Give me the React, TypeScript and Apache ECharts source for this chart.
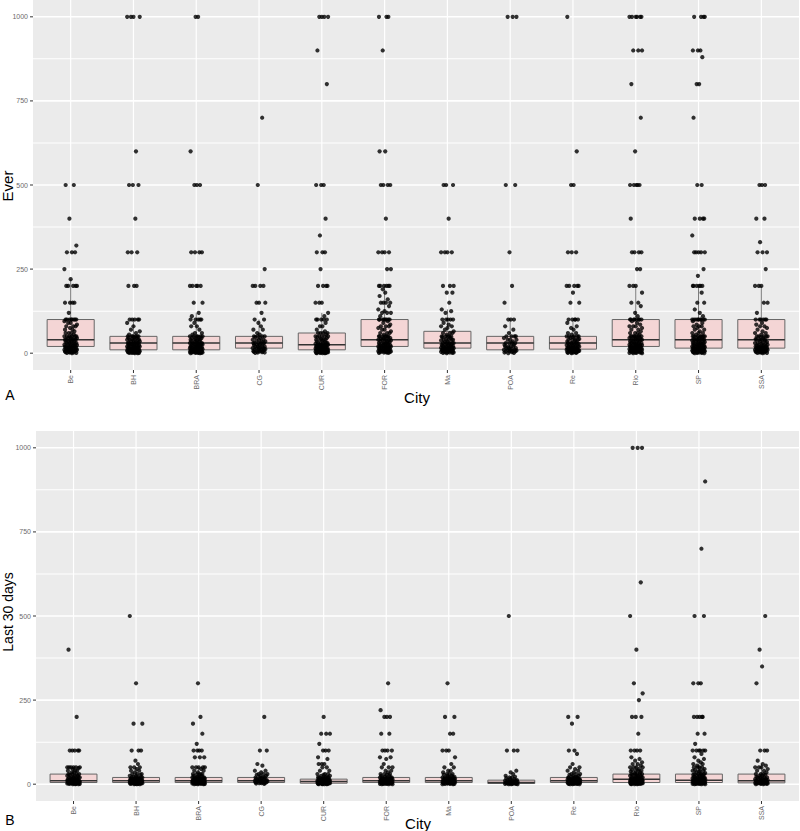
import React, { useEffect, useRef } from "react";
import * as echarts from "echarts";

const CITIES = ["Be", "BH", "BRA", "CG", "CUR", "FOR", "Ma", "POA", "Re", "Rio", "SP", "SSA"];
const Y_TICKS = [0, 250, 500, 750, 1000];
const Y_MINOR = [125, 375, 625, 875];

// [lower whisker, Q1, median, Q3, upper whisker]
const EVER_STATS = [
  [0, 20, 40, 100, 220],
  [0, 10, 30, 50, 100],
  [0, 10, 30, 50, 120],
  [1, 15, 30, 50, 100],
  [0, 10, 25, 60, 120],
  [1, 20, 40, 100, 200],
  [0, 15, 30, 65, 130],
  [0, 10, 30, 50, 100],
  [0, 12, 30, 50, 100],
  [0, 20, 40, 100, 200],
  [0, 15, 40, 100, 200],
  [0, 15, 40, 100, 200],
];

const LAST30_STATS = [
  [0, 5, 10, 30, 50],
  [0, 5, 10, 20, 50],
  [0, 5, 10, 20, 50],
  [1, 5, 10, 20, 40],
  [0, 3, 8, 15, 30],
  [0, 5, 10, 20, 40],
  [0, 5, 10, 20, 40],
  [0, 2, 5, 12, 25],
  [0, 5, 10, 20, 40],
  [0, 5, 15, 30, 65],
  [0, 5, 12, 30, 65],
  [0, 4, 10, 30, 60],
];

const EVER_POINTS = [
  // Be
  [500, 500, 400, 320, 300, 300, 300, 250, 220, 200, 200, 200, 200, 200, 150, 150, 150, 150, 120,
    100, 100, 100, 100, 100, 100, 100, 100, 95, 90, 90, 85, 80, 80, 80, 75, 70, 70, 65, 60, 60, 60, 55, 50, 50, 50, 50, 50, 50,
    48, 45, 45, 42, 40, 40, 40, 40, 40, 38, 35, 35, 33, 30, 30, 30, 30, 30, 28, 25, 25, 25, 24, 22, 20, 20, 20, 20, 20, 20,
    18, 16, 15, 15, 15, 14, 12, 12, 10, 10, 10, 10, 10, 8, 8, 7, 6, 5, 5, 5, 4, 3, 3, 2, 2, 1, 1, 0],
  // BH
  [1000, 1000, 1000, 1000, 600, 500, 500, 500, 400, 300, 300, 300, 200, 200, 200,
    100, 100, 100, 100, 100, 90, 80, 70, 65, 60, 55, 50, 50, 50, 50, 50, 50, 48, 45, 45, 42, 40, 40, 40, 40, 40, 38, 35, 35, 33,
    30, 30, 30, 30, 30, 30, 28, 27, 25, 25, 25, 24, 22, 20, 20, 20, 20, 20, 20, 18, 16, 15, 15, 15, 15, 14, 12, 12,
    10, 10, 10, 10, 10, 10, 9, 8, 8, 7, 6, 5, 5, 5, 5, 4, 4, 3, 3, 2, 2, 2, 1, 1, 1, 0, 0],
  // BRA
  [1000, 1000, 600, 500, 500, 500, 300, 300, 300, 300, 200, 200, 200, 200, 200, 150, 150, 120,
    110, 100, 100, 100, 100, 100, 90, 80, 80, 70, 60, 60, 55, 50, 50, 50, 50, 50, 50, 48, 45, 44, 42, 40, 40, 40, 40, 38, 36, 35, 33,
    30, 30, 30, 30, 30, 30, 28, 26, 25, 25, 25, 24, 22, 20, 20, 20, 20, 20, 20, 18, 17, 15, 15, 15, 15, 14, 12, 12,
    10, 10, 10, 10, 10, 10, 9, 8, 8, 7, 6, 5, 5, 5, 5, 4, 4, 3, 3, 2, 2, 2, 1, 1, 1, 0, 0],
  // CG
  [700, 500, 250, 200, 200, 200, 200, 150, 150, 150, 120,
    100, 100, 90, 80, 70, 70, 60, 55, 50, 50, 50, 50, 48, 45, 40, 40, 40, 38, 35, 35, 30, 30, 30, 30, 30, 28, 25, 25, 24,
    20, 20, 20, 20, 18, 15, 15, 15, 14, 12, 10, 10, 10, 10, 8, 6, 5, 5, 5, 4, 3, 2, 2, 1],
  // CUR
  [1000, 1000, 1000, 1000, 900, 800, 500, 500, 500, 400, 350, 300, 300, 300, 250, 200, 200, 200, 200, 150, 150, 150,
    120, 110, 100, 100, 100, 100, 100, 90, 80, 80, 70, 65, 60, 60, 60, 60, 55, 50, 50, 50, 50, 50, 48, 45, 42, 40, 40, 40, 40, 38,
    35, 33, 30, 30, 30, 30, 30, 28, 26, 25, 25, 25, 25, 24, 22, 20, 20, 20, 20, 20, 20, 18, 16, 15, 15, 15, 15, 14, 12, 12,
    10, 10, 10, 10, 10, 10, 10, 9, 8, 8, 7, 6, 6, 5, 5, 5, 5, 5, 4, 4, 3, 3, 3, 2, 2, 2, 1, 1, 1, 0, 0, 0],
  // FOR
  [1000, 1000, 1000, 900, 600, 600, 500, 500, 500, 500, 400, 300, 300, 300, 300, 250, 250,
    200, 200, 200, 200, 200, 200, 190, 180, 170, 160, 150, 150, 150, 150, 140, 130, 125, 120, 120, 120, 110,
    100, 100, 100, 100, 100, 100, 100, 100, 95, 90, 85, 80, 80, 80, 75, 70, 70, 65, 60, 60, 60, 55, 50, 50, 50, 50, 50, 50,
    48, 45, 45, 42, 40, 40, 40, 40, 40, 38, 35, 35, 33, 30, 30, 30, 30, 30, 28, 25, 25, 25, 24, 22, 20, 20, 20, 20, 20, 20,
    18, 16, 15, 15, 15, 14, 12, 12, 10, 10, 10, 10, 10, 8, 8, 7, 6, 5, 5, 5, 4, 3, 3, 2, 2, 1, 1],
  // Ma
  [500, 500, 500, 400, 300, 300, 300, 300, 200, 200, 200, 180, 180, 150,
    130, 125, 120, 100, 100, 100, 100, 100, 90, 85, 80, 80, 75, 70, 65, 60, 60, 60, 55, 50, 50, 50, 50, 50, 48, 45, 42,
    40, 40, 40, 40, 38, 35, 33, 30, 30, 30, 30, 30, 28, 25, 25, 25, 24, 22, 20, 20, 20, 20, 20, 18, 16, 15, 15, 15, 15, 14,
    12, 12, 10, 10, 10, 10, 10, 8, 8, 7, 6, 5, 5, 5, 4, 3, 3, 2, 2, 1, 1, 0],
  // POA
  [1000, 1000, 1000, 500, 500, 300, 200, 150,
    100, 100, 100, 80, 70, 60, 50, 50, 50, 50, 45, 40, 40, 40, 35, 30, 30, 30, 30, 25, 25, 20, 20, 20, 20, 15, 15, 15, 12,
    10, 10, 10, 10, 8, 6, 5, 5, 5, 3, 2, 1, 0],
  // Re
  [1000, 600, 500, 500, 300, 300, 300, 200, 200, 200, 200, 200, 180, 150, 150,
    100, 100, 100, 100, 100, 90, 80, 75, 70, 60, 60, 55, 50, 50, 50, 50, 50, 48, 45, 42, 40, 40, 40, 40, 38, 35, 33,
    30, 30, 30, 30, 30, 28, 25, 25, 25, 24, 22, 20, 20, 20, 20, 20, 18, 16, 15, 15, 15, 15, 14, 12, 12,
    10, 10, 10, 10, 10, 8, 8, 7, 6, 5, 5, 5, 4, 3, 3, 2, 2, 1, 1, 0],
  // Rio
  [1000, 1000, 1000, 1000, 1000, 1000, 900, 900, 900, 800, 700, 600, 500, 500, 500, 500, 500, 400, 300, 300, 300, 300, 250, 250,
    200, 200, 200, 180, 150, 150, 140, 120, 110, 100, 100, 100, 100, 100, 100, 100, 100, 95, 90, 85, 80, 80, 80, 75, 70, 70, 65,
    60, 60, 60, 55, 50, 50, 50, 50, 50, 50, 50, 48, 45, 45, 42, 40, 40, 40, 40, 40, 40, 38, 35, 35, 33, 30, 30, 30, 30, 30, 30,
    28, 25, 25, 25, 25, 24, 22, 20, 20, 20, 20, 20, 20, 20, 18, 16, 15, 15, 15, 15, 14, 12, 12,
    10, 10, 10, 10, 10, 10, 8, 8, 7, 6, 5, 5, 5, 5, 4, 3, 3, 2, 2, 1, 1, 0, 0],
  // SP
  [1000, 1000, 1000, 1000, 900, 900, 900, 880, 800, 800, 700, 500, 500, 400, 400, 400, 400, 350, 300, 300, 300, 300, 300, 250, 230,
    200, 200, 200, 200, 200, 200, 180, 150, 150, 130, 120, 110, 100, 100, 100, 100, 100, 100, 100, 100, 100, 95, 90, 85,
    80, 80, 80, 75, 70, 70, 65, 60, 60, 60, 55, 50, 50, 50, 50, 50, 50, 50, 48, 45, 45, 42, 40, 40, 40, 40, 40, 40, 38, 35, 35, 33,
    30, 30, 30, 30, 30, 30, 28, 25, 25, 25, 25, 24, 22, 20, 20, 20, 20, 20, 20, 18, 16, 15, 15, 15, 15, 15, 14, 12, 12,
    10, 10, 10, 10, 10, 10, 10, 8, 8, 7, 6, 5, 5, 5, 5, 5, 4, 3, 3, 2, 2, 1, 1, 0, 0],
  // SSA
  [500, 500, 500, 400, 400, 330, 300, 300, 300, 250,
    200, 200, 200, 150, 150, 120, 100, 100, 100, 100, 100, 100, 90, 85, 80, 80, 75, 70, 65, 60, 60, 55, 50, 50, 50, 50, 50,
    48, 45, 42, 40, 40, 40, 40, 38, 35, 33, 30, 30, 30, 30, 28, 25, 25, 24, 22, 20, 20, 20, 20, 20, 18, 16, 15, 15, 15, 15, 14,
    12, 12, 10, 10, 10, 10, 8, 8, 7, 6, 5, 5, 5, 4, 3, 3, 2, 2, 1, 1, 0],
];

const LAST30_POINTS = [
  // Be
  [400, 200, 100, 100, 100, 100, 100,
    50, 50, 50, 50, 50, 50, 48, 45, 40, 40, 40, 35, 35, 30, 30, 30, 30, 28, 25, 25, 25, 22, 20, 20, 20, 20, 20, 18,
    15, 15, 15, 15, 14, 12, 12, 10, 10, 10, 10, 10, 10, 10, 9, 8, 8, 7, 7, 6, 6, 5, 5, 5, 5, 5, 5, 4, 4, 3, 3, 3, 2, 2, 2, 1, 1, 1, 0, 0, 0],
  // BH
  [500, 300, 180, 180, 100, 100, 100, 70, 60,
    50, 50, 50, 45, 40, 40, 35, 30, 30, 30, 28, 25, 25, 22, 20, 20, 20, 20, 20, 18, 16, 15, 15, 15, 15, 14, 12, 12, 12,
    10, 10, 10, 10, 10, 10, 10, 9, 8, 8, 8, 7, 7, 6, 6, 5, 5, 5, 5, 5, 5, 4, 4, 3, 3, 3, 2, 2, 2, 1, 1, 1, 0, 0, 0],
  // BRA
  [300, 200, 180, 150, 120, 100, 100, 100, 100, 80, 80, 80,
    50, 50, 50, 50, 50, 45, 40, 40, 35, 30, 30, 30, 30, 28, 25, 25, 22, 20, 20, 20, 20, 20, 20, 18, 16, 15, 15, 15, 15, 14, 12, 12, 12,
    10, 10, 10, 10, 10, 10, 10, 10, 9, 8, 8, 8, 7, 7, 6, 6, 5, 5, 5, 5, 5, 5, 4, 4, 3, 3, 3, 2, 2, 2, 1, 1, 1, 0, 0, 0],
  // CG
  [200, 100, 100, 60, 55,
    40, 40, 35, 30, 30, 30, 28, 25, 25, 20, 20, 20, 20, 18, 15, 15, 15, 12, 12, 10, 10, 10, 10, 9, 8, 7, 6, 5, 5, 5, 5, 4, 3, 3, 2, 1],
  // CUR
  [200, 150, 150, 150, 120, 100, 100, 100, 80, 75, 60, 60, 60, 50, 50, 40, 40,
    30, 30, 30, 28, 25, 25, 22, 20, 20, 20, 20, 20, 18, 16, 15, 15, 15, 15, 14, 12, 12, 12,
    10, 10, 10, 10, 10, 10, 9, 8, 8, 8, 7, 7, 6, 6, 5, 5, 5, 5, 5, 5, 4, 4, 3, 3, 3, 3, 2, 2, 2, 1, 1, 1, 0, 0, 0, 0],
  // FOR
  [300, 220, 200, 200, 200, 150, 150, 100, 100, 100, 100, 80, 80, 75, 60, 50, 50, 50,
    40, 40, 35, 30, 30, 30, 28, 25, 25, 22, 20, 20, 20, 20, 20, 18, 16, 15, 15, 15, 15, 14, 12, 12, 12,
    10, 10, 10, 10, 10, 10, 10, 9, 8, 8, 8, 7, 7, 6, 6, 5, 5, 5, 5, 5, 5, 4, 4, 3, 3, 3, 2, 2, 2, 1, 1, 1, 0, 0, 0],
  // Ma
  [300, 200, 200, 150, 150, 100, 100, 100, 80, 60, 50, 50,
    40, 40, 35, 30, 30, 30, 28, 25, 25, 22, 20, 20, 20, 20, 20, 18, 16, 15, 15, 15, 15, 14, 12, 12,
    10, 10, 10, 10, 10, 10, 9, 8, 8, 7, 7, 6, 6, 5, 5, 5, 5, 5, 4, 4, 3, 3, 3, 2, 2, 1, 1, 1, 0, 0],
  // POA
  [500, 100, 100, 100, 40, 35, 30,
    25, 22, 20, 20, 18, 15, 15, 12, 12, 10, 10, 10, 9, 8, 7, 6, 5, 5, 5, 5, 5, 4, 4, 3, 3, 3, 2, 2, 2, 1, 1, 1, 0, 0, 0],
  // Re
  [200, 200, 180, 100, 100, 90, 60, 50, 50, 45,
    40, 40, 35, 30, 30, 30, 28, 25, 25, 22, 20, 20, 20, 20, 20, 18, 16, 15, 15, 15, 15, 14, 12, 12, 12,
    10, 10, 10, 10, 10, 10, 9, 8, 8, 8, 7, 7, 6, 6, 5, 5, 5, 5, 5, 5, 4, 4, 3, 3, 3, 2, 2, 2, 1, 1, 1, 0, 0, 0],
  // Rio
  [1000, 1000, 1000, 600, 500, 400, 300, 270, 250, 200, 200, 200, 150, 100, 100, 100, 100, 80, 75, 70,
    65, 60, 60, 55, 50, 50, 50, 50, 45, 42, 40, 40, 40, 38, 35, 33, 30, 30, 30, 30, 30, 28, 25, 25, 25, 22, 20, 20, 20, 20, 20, 20,
    18, 16, 15, 15, 15, 15, 15, 14, 12, 12, 12, 10, 10, 10, 10, 10, 10, 10, 9, 8, 8, 8, 7, 7, 6, 6, 5, 5, 5, 5, 5, 5,
    4, 4, 3, 3, 3, 2, 2, 2, 1, 1, 1, 0, 0, 0],
  // SP
  [900, 700, 500, 500, 300, 300, 300, 200, 200, 200, 200, 200, 150, 150, 120, 100, 100, 100, 100, 100, 100, 90, 80, 75, 70,
    65, 60, 60, 55, 50, 50, 50, 50, 45, 42, 40, 40, 40, 38, 35, 33, 30, 30, 30, 30, 30, 28, 25, 25, 25, 22, 20, 20, 20, 20, 20, 20,
    18, 16, 15, 15, 15, 15, 14, 12, 12, 12, 12, 10, 10, 10, 10, 10, 10, 10, 9, 8, 8, 8, 7, 7, 6, 6, 5, 5, 5, 5, 5, 5,
    4, 4, 3, 3, 3, 2, 2, 2, 1, 1, 1, 0, 0, 0],
  // SSA
  [500, 400, 350, 300, 100, 100, 100, 70, 60,
    55, 50, 50, 50, 45, 40, 40, 35, 30, 30, 30, 28, 25, 25, 22, 20, 20, 20, 20, 18, 15, 15, 15, 14, 12, 12,
    10, 10, 10, 10, 10, 9, 8, 8, 7, 6, 5, 5, 5, 5, 4, 4, 3, 3, 2, 2, 2, 1, 1, 0, 0],
];

// fixed horizontal jitter pattern (category units)
const JITTER = [-0.08, 0.05, -0.02, 0.09, -0.06, 0.02, 0.07, -0.1, 0.0, -0.04, 0.1, 0.04, -0.07, 0.08, -0.01, 0.03, -0.09, 0.06, -0.03, 0.01];

const TICK_FONT = { fontSize: 7, color: "#6b6b6b", fontFamily: "Liberation Sans, sans-serif" };

function buildPanel(gridIndex: number, stats: number[][], points: number[][]) {
  const boxData = stats.map((s, i) => [i, ...s]);
  const scatterData: number[][] = [];
  points.forEach((arr, ci) => {
    arr.forEach((v, k) => {
      scatterData.push([ci + JITTER[(k + ci * 7) % JITTER.length], v]);
    });
  });
  // panel decoration items: [x, y, kind] kind 0 = panel, 1 = major y, 2 = minor y, 3 = category line
  const panelData = [
    [0, 0, 0],
    ...Y_MINOR.map((v) => [0, v, 2]),
    ...Y_TICKS.map((v) => [0, v, 1]),
    ...CITIES.map((_, i) => [i, 0, 3]),
  ];
  return [
    {
      type: "custom",
      xAxisIndex: gridIndex,
      yAxisIndex: gridIndex,
      z: 1,
      data: panelData,
      encode: { x: 0, y: 1 },
      renderItem: (params: any, api: any) => {
        const cs = params.coordSys;
        const kind = api.value(2);
        if (kind === 0) {
          return { type: "rect", shape: { x: cs.x, y: cs.y, width: cs.width, height: cs.height }, style: { fill: "#EBEBEB" } };
        }
        if (kind === 3) {
          const x = api.coord([api.value(0), 0])[0];
          return {
            type: "group",
            children: [
              { type: "rect", shape: { x: x - 0.6, y: cs.y, width: 1.2, height: cs.height }, style: { fill: "#FFFFFF" } },
              { type: "rect", shape: { x: x - 0.5, y: cs.y + cs.height, width: 1, height: 3 }, style: { fill: "#333333" } },
            ],
          };
        }
        const y = api.coord([0, api.value(1)])[1];
        const h = kind === 1 ? 1.6 : 1.0;
        const children: any[] = [
          { type: "rect", shape: { x: cs.x, y: y - h / 2, width: cs.width, height: h }, style: { fill: "#FFFFFF" } },
        ];
        if (kind === 1) {
          children.push({ type: "rect", shape: { x: cs.x - 3, y: y - 0.5, width: 3, height: 1 }, style: { fill: "#333333" } });
        }
        return { type: "group", children };
      },
    },
    {
      type: "custom",
      xAxisIndex: gridIndex,
      yAxisIndex: gridIndex,
      z: 2,
      data: boxData,
      encode: { x: 0, y: [1, 2, 3, 4, 5] },
      renderItem: (params: any, api: any) => {
        const x = api.value(0);
        const lo = api.coord([x, api.value(1)]);
        const q1 = api.coord([x, api.value(2)]);
        const md = api.coord([x, api.value(3)]);
        const q3 = api.coord([x, api.value(4)]);
        const hi = api.coord([x, api.value(5)]);
        const w = api.size([0.75, 0])[0];
        return {
          type: "group",
          children: [
            { type: "line", shape: { x1: lo[0], y1: lo[1], x2: q1[0], y2: q1[1] }, style: { stroke: "#555555", lineWidth: 0.8 } },
            { type: "line", shape: { x1: q3[0], y1: q3[1], x2: hi[0], y2: hi[1] }, style: { stroke: "#555555", lineWidth: 0.8 } },
            {
              type: "rect",
              shape: { x: q3[0] - w / 2, y: q3[1], width: w, height: q1[1] - q3[1] },
              style: { fill: "#F4D5D5", stroke: "#666666", lineWidth: 1 },
            },
            { type: "line", shape: { x1: md[0] - w / 2, y1: md[1], x2: md[0] + w / 2, y2: md[1] }, style: { stroke: "#333333", lineWidth: 1.5 } },
          ],
        };
      },
    },
    {
      type: "scatter",
      xAxisIndex: gridIndex,
      yAxisIndex: gridIndex,
      z: 3,
      symbol: "circle",
      symbolSize: 4.2,
      itemStyle: { color: "#000000" },
      data: scatterData,
    },
  ];
}

function xAxisFor(gridIndex: number) {
  const idx = CITIES.map((_, i) => i);
  return {
    type: "value",
    gridIndex,
    min: -0.6,
    max: 11.6,
    position: "bottom",
    axisLine: { show: false, onZero: false },
    axisTick: { show: false },
    axisLabel: {
      ...TICK_FONT,
      customValues: idx,
      rotate: 90,
      margin: 5,
      formatter: (v: number) => CITIES[Math.round(v)] ?? "",
    },
    splitLine: { show: false },
  };
}

function yAxisFor(gridIndex: number) {
  return {
    type: "value",
    gridIndex,
    position: "left",
    min: -50,
    max: 1050,
    axisLine: { show: false, onZero: false },
    axisTick: { show: false },
    axisLabel: { ...TICK_FONT, customValues: Y_TICKS, margin: 5, formatter: (v: number) => String(v) },
    splitLine: { show: false },
  };
}

export default function App() {
  const ref = useRef<HTMLDivElement>(null);
  useEffect(() => {
    if (!ref.current) return;
    const chart = echarts.init(ref.current, null, { renderer: "svg" });
    const titleFont = "Liberation Sans, sans-serif";
    const option: any = {
      animation: false,
      backgroundColor: "#FFFFFF",
      grid: [
        { left: 33, top: 0, width: 766, height: 370, containLabel: false, outerBoundsMode: "none", show: false },
        { left: 36, top: 431, width: 763, height: 370, containLabel: false, outerBoundsMode: "none", show: false },
      ],
      xAxis: [xAxisFor(0), xAxisFor(1)],
      yAxis: [yAxisFor(0), yAxisFor(1)],
      series: [...buildPanel(0, EVER_STATS, EVER_POINTS), ...buildPanel(1, LAST30_STATS, LAST30_POINTS)],
      graphic: [
        { type: "text", x: 7, y: 186, rotation: Math.PI / 2, style: { text: "Ever", fontSize: 15, fontFamily: titleFont, fill: "#000", align: "center", verticalAlign: "middle" } },
        { type: "text", x: 417, y: 397, style: { text: "City", fontSize: 15, fontFamily: titleFont, fill: "#000", align: "center", verticalAlign: "middle" } },
        { type: "text", x: 10, y: 395, style: { text: "A", fontSize: 14, fontFamily: titleFont, fill: "#000", align: "center", verticalAlign: "middle" } },
        { type: "text", x: 8, y: 612, rotation: Math.PI / 2, style: { text: "Last 30 days", fontSize: 14, fontFamily: titleFont, fill: "#000", align: "center", verticalAlign: "middle" } },
        { type: "text", x: 418, y: 823, style: { text: "City", fontSize: 15, fontFamily: titleFont, fill: "#000", align: "center", verticalAlign: "middle" } },
        { type: "text", x: 10, y: 820, style: { text: "B", fontSize: 14, fontFamily: titleFont, fill: "#000", align: "center", verticalAlign: "middle" } },
      ],
    };
    chart.setOption(option);
    return () => chart.dispose();
  }, []);
  return <div ref={ref} style={{ position: "absolute", left: 0, top: 0, width: 800, height: 831 }} />;
}
